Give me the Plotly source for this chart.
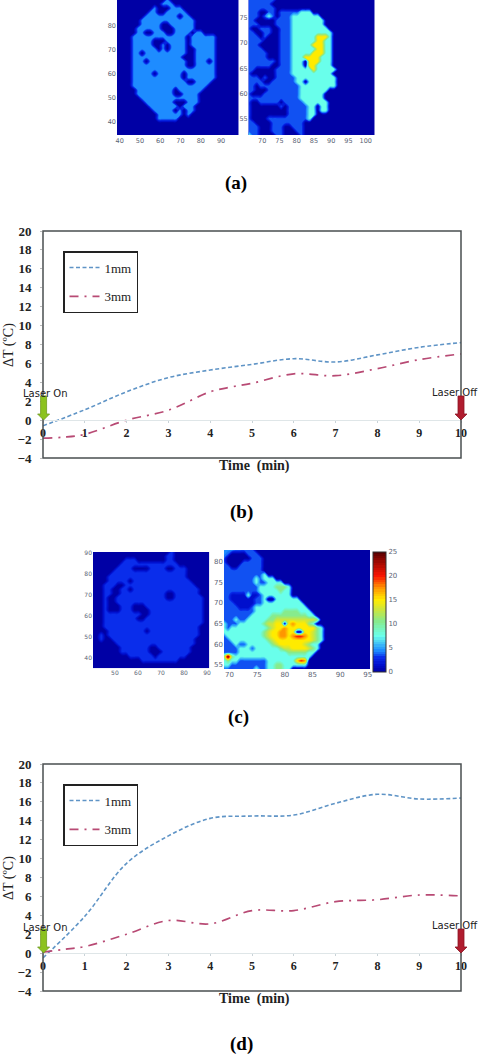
import plotly.graph_objects as go

# ---------- data ----------
time_b_1mm = [0, 1, 2, 3, 4, 5, 6, 7, 8, 9, 10]
temp_b_1mm = [-0.6, 1.1, 3.0, 4.5, 5.3, 5.9, 6.5, 6.15, 6.9, 7.7, 8.2]
time_b_3mm = [0, 0.5, 1, 2, 3, 4, 4.5, 5, 6, 7, 8, 9, 10]
temp_b_3mm = [-1.9, -1.8, -1.5, 0.0, 1.05, 3.0, 3.5, 3.9, 4.9, 4.7, 5.45, 6.4, 7.0]
time_d_1mm = [0, 1, 2, 3, 4, 5, 6, 7, 8, 9, 10]
temp_d_1mm = [-0.5, 3.9, 9.5, 12.4, 14.25, 14.5, 14.6, 15.85, 16.8, 16.3, 16.4]
time_d_3mm = [0, 0.5, 1, 2, 3, 4, 5, 6, 7, 8, 9, 10]
temp_d_3mm = [0.1, 0.4, 0.7, 2.0, 3.45, 3.1, 4.5, 4.5, 5.45, 5.65, 6.15, 6.05]
time_ticks = list(range(0, 11))
temp_ticks = list(range(-4, 21, 2))

level_values = {'.': 0, 'd': 1.5, 'f': 3.0, 'b': 3.7, '#': 4.5, 'c': 7.5, 'g': 10.5,
                'l': 13, 'y': 15, 'o': 17.5, 'r': 20, 'k': 24}

map_a_left = [
    "............#",
    "...........###",
    ".........#...###",
    "........##..#####",
    ".......########.##",
    "......#############",
    "......#####..######",
    ".....######...#####",
    ".....##..###..####.##",
    "....#############.######",
    "....#####...#####.######",
    "....#####..#.####.######",
    "....######.#.####..#####",
    "....##.##########..#####",
    "....############...#####",
    "....###.#########..###.#",
    "....#############..#####",
    "....####################",
    "....#####.######.#######",
    "....############.#######",
    "....#############..####",
    "....##################",
    ".....#########.######",
    ".....#########..####",
    "......##############",
    ".......#######...###",
    "........#######.###",
    ".........#####.#.##",
    "..........######.#",
    "..........#####",
    "", "", "", "",
]

map_a_right = [
    "bbbbbbb",
    "bbbbbb",
    "bbbbbbb",
    "bbb..bb.bbbbbccc",
    "bbb.bcb.bbbccccccc",
    "bb.....bbbbcccccccc",
    "bbb....bbbbcccccccc",
    "b..bbb..bbbccccccccc",
    "bb..bb..bbbcccccccccc",
    "bbb.b...bbbccccccyyyc",
    "bbbb....bbbccccccyycc",
    "bbb.....bbbcccccyyycc",
    "bbbb....bbbccccccyycc",
    "bbbbb...bbbcccccyyycc",
    "bbbbb...bbbcccyyyyccc",
    "bbbbbbb.bbbccc.yyyccc",
    "bbbbbb..bbbccc.yycccc",
    "bb.....bbbbcccccyccccc",
    "b......bbbbcccccccccc",
    "bbb.b..bbbbbcccccccccc",
    "bbbb..bbbbbbcc.ccccccc",
    "bb.bbbbbbbbbbccccccccc",
    "bb...bbbbbbbbccccccc",
    "b...bbbbbbbbbcccccc",
    "bbbbbbbbbbbbbcccccc",
    "b..bbbbb.bbbbbcccccc",
    "b.......b.bbbbbcc.cc",
    "b.........bbbbbcc.cc",
    "b.........bbbbbcc",
    "b....bbbbbbbbbbc",
    "bb....bbbbbbbb",
    "bbb...bbb..bbb",
    "bbb...bbb...bb",
    "cbb....bb....b",
]

map_c_left = [
    "...................f",
    "..................ff",
    "........fff.......ff",
    ".......ffffffffffffff",
    "......ffff....ffff..fff",
    ".....ffffffffffffffffff",
    "....fffffffffffffffffff",
    "....fffff.ffffffffffffff",
    "...fff..fffffffffffffffff",
    "...ff..ff.ffffffffffffffff",
    "...ff..fffffffffff..ffffff",
    "...f..ffffffffffff..fffffff",
    "...f..fffffffffffffffffffff",
    "...f...fff...ffffffffffffff",
    "...f...fff....fffffffffffff",
    "...fffffffff..fffffffffffff",
    "...ffffffff..ffffffffffffff",
    "...ffffffffffffffffffffffff",
    "...fffffffffffffffffffffff",
    "....fffffffff.ffffffffffff",
    "..f.ffffffffffffffffffffff",
    "..f..ffffffffffffffffffff",
    "......fffffffffffffffffff",
    ".......fffffff..ffffffff",
    ".......fffffff...fffffff",
    ".........ffffff.fffffff",
    "............fffffffff",
    "", "",
]

map_c_right = [
    "###bbbbb",
    "#b....bbb",
    "b......bbb",
    "b....bbbbb",
    "bb..bbbbbb",
    "bbbbbbbbbb",
    "bbbbbbbbbbc",
    "bbbbbbbbcbccc",
    "bbbbbbbbcbbcccc",
    "bbbbbbbbbccccgggc",
    "bbbbbbbbbcccccgcc",
    "bbddddcddbccccccc",
    "bbddddddbbc..cccccc",
    "bbbdddddbbcccccccccc",
    "bbbbdddbccccccccccccc",
    "bbbbbbbbcccccccggggccc",
    "bbbbbbbcccccgggggggggcc",
    "bbbcbbcccccggllllllllllg",
    "cbbbccccccgllyy.yoyyygc",
    "cbcccccccccglyyoyyyyyyygc",
    "ccccccccccglyyooyy..yylgc",
    "bcccccccccglyyooyorroylgc",
    "bbcccccccccglyyyyyyyyylgc",
    "bbbcbbccccccglyyyyyylgcc",
    "bbbbcccbccccccgllyyyylgc",
    "bbbbccccccccccccgggggcc",
    "gkgccccccccccccccccccc",
    "cgccbbbbbbbcccccccyro",
    "ccbbbbbbbbbccggcccccc",
    "bbbbbbbbcbbccggcc",
]

# ---------- styles ----------
color_1mm = "#5f94c6"
color_3mm = "#b84a74"
serif = "Liberation Serif"
tick_color = "#5b6475"
stops = [(0, (0, 0, 165)), (1.5, (0, 15, 205)), (3.0, (10, 45, 235)), (3.7, (20, 95, 245)),
         (4.5, (30, 140, 255)), (7.5, (105, 255, 235)), (10.5, (135, 235, 140)),
         (13, (205, 230, 60)), (15, (255, 235, 0)), (17.5, (255, 150, 0)),
         (20, (250, 20, 0)), (25, (90, 0, 0))]
jet_like = [[v / 25, f"rgb{c}"] for v, c in stops]

W, H = 480, 1056
def xdom(a, b): return [a / W, b / W]
def ydom(a, b): return [1 - b / H, 1 - a / H]

fig = go.Figure()

def grid_to_z(rows, ncols):
    return [[level_values[ch] for ch in r.ljust(ncols, '.')[:ncols]] for r in rows]

def add_map(i, rows, ncols, xr, yr, box, xticks, yticks, tick_size, scale=False):
    nrows = len(rows)
    xs = [xr[0] + k * (xr[1] - xr[0]) / (ncols - 1) for k in range(ncols)]
    ys = [yr[1] - k * (yr[1] - yr[0]) / (nrows - 1) for k in range(nrows)]
    small_tick = dict(family="DejaVu Sans", size=tick_size, color=tick_color)
    tr = go.Contour(z=grid_to_z(rows, ncols), x=xs, y=ys, zmin=0, zmax=25, colorscale=jet_like,
                    contours=dict(coloring="fill", showlines=False, start=0.25, end=24.75, size=0.5),
                    line=dict(width=0), showscale=scale, xaxis=f"x{i}", yaxis=f"y{i}", hoverinfo="skip")
    if scale:
        tr.colorbar = dict(x=373 / W, xanchor="left", xpad=0, thickness=13, lenmode="pixels", len=120,
                           y=1 - 552 / H, yanchor="top", ypad=0, outlinecolor="#333", outlinewidth=1,
                           tickvals=[0, 5, 10, 15, 20, 25], tickfont=small_tick, ticks="")
    fig.add_trace(tr)
    fig.layout[f"xaxis{i}"] = dict(domain=xdom(box[0], box[1]), range=xr, anchor=f"y{i}", tickvals=xticks,
                                   tickfont=small_tick, ticks="", showgrid=False, zeroline=False, showline=False)
    fig.layout[f"yaxis{i}"] = dict(domain=ydom(box[2], box[3]), range=yr, anchor=f"x{i}", tickvals=yticks,
                                   tickfont=small_tick, ticks="", showgrid=False, zeroline=False, showline=False)

add_map(1, map_a_left, 30, [38.7, 98.7], [34.6, 90.8], (117, 238.7, 0, 135),
        [40, 50, 60, 70, 80, 90], [40, 50, 60, 70, 80, 90], 6.5)
add_map(2, map_a_right, 32, [66.1, 102.6], [51.8, 78.56], (248.7, 374.7, 0, 135),
        [70, 75, 80, 85, 90, 95, 100], [55, 60, 65, 70, 75], 6.5)
add_map(4, map_c_left, 29, [40.5, 91], [35.2, 90.6], (93, 209.3, 552, 668.3),
        [50, 60, 70, 80, 90], [40, 50, 60, 70, 80, 90], 6)
add_map(5, map_c_right, 37, [69, 95.4], [54, 82.8], (224, 370, 550, 669),
        [70, 75, 80, 85, 90, 95], [55, 60, 65, 70, 75, 80], 7, scale=True)

def add_lines(i, leg, t1, v1, t3, v3, top):
    fig.add_trace(go.Scatter(x=t1, y=v1, mode="lines", name="1mm", legend=leg, legendgroup="a",
                             line=dict(color=color_1mm, width=1.6, dash="4px,2.5px", shape="spline", smoothing=1),
                             xaxis=f"x{i}", yaxis=f"y{i}"))
    fig.add_trace(go.Scatter(x=t3, y=v3, mode="lines", name="3mm", legend=leg, legendgroup="b",
                             line=dict(color=color_3mm, width=1.7, dash="9px,6px,2px,6px", shape="spline", smoothing=1),
                             xaxis=f"x{i}", yaxis=f"y{i}"))
    bottom = top + 227
    zero_px = top + 189
    fig.layout[f"xaxis{i}"] = dict(domain=xdom(43, 461), range=[0, 10], anchor="free", position=1 - zero_px / H,
                                   tickvals=time_ticks, ticks="outside", ticklen=2, tickcolor="#c9d3d8",
                                   linecolor="#dfe6e8", showline=True, showgrid=False, zeroline=False,
                                   ticklabelstandoff=0,
                                   tickfont=dict(family=serif, size=12, color="#222", weight=700))
    fig.layout[f"yaxis{i}"] = dict(domain=ydom(top, bottom), range=[-4, 20], anchor=f"x{i}", tickvals=temp_ticks,
                                   ticks="outside", ticklen=2, tickcolor="#bbb", showgrid=False, zeroline=False,
                                   ticklabelstandoff=6,
                                   tickfont=dict(family=serif, size=13, color="#222", weight=700))
    fig.add_shape(type="rect", xref=f"x{i} domain", yref=f"y{i} domain", x0=0, x1=1, y0=0, y1=1,
                  line=dict(color="#4a4f50", width=1.5), layer="above")
    for xpx, fill, edge in ((43.6, "#8cc21f", "#6f9a20"), (461, "#b01c2e", "#8a1525")):
        fig.add_shape(type="path", xref="paper", yref="paper", xsizemode="pixel", ysizemode="pixel",
                      xanchor=xpx / W, yanchor=1 - zero_px / H, fillcolor=fill, line=dict(color=edge, width=0.8),
                      path="M -3 24 L 3 24 L 3 6 L 6 6 L 0 0 L -6 6 L -3 6 Z", layer="above")
    fig.add_annotation(xref=f"x{i}", yref="paper", x=0.07, y=1 - (top + 163) / H, text="Laser On", showarrow=False,
                       font=dict(family="DejaVu Sans", size=10, color="#222"), xanchor="center", yanchor="middle")
    fig.add_annotation(xref=f"x{i}", yref="paper", x=9.85, y=1 - (top + 161) / H, text="Laser Off", showarrow=False,
                       font=dict(family="DejaVu Sans", size=10, color="#222"), xanchor="center", yanchor="middle")
    fig.add_annotation(xref="paper", yref="paper", x=254 / W, y=1 - (top + 235) / H, text="<b>Time  (min)</b>",
                       showarrow=False, font=dict(family=serif, size=14, color="#222"),
                       xanchor="center", yanchor="middle")
    fig.add_annotation(xref="paper", yref="paper", x=9 / W, y=1 - (top + 114) / H, text="ΔT (ºC)", textangle=-90,
                       showarrow=False, font=dict(family=serif, size=14, color="#222"),
                       xanchor="center", yanchor="middle")

add_lines(3, "legend", time_b_1mm, temp_b_1mm, time_b_3mm, temp_b_3mm, 231)
add_lines(6, "legend2", time_d_1mm, temp_d_1mm, time_d_3mm, temp_d_3mm, 764)

leg_style = dict(xanchor="left", yanchor="top", x=63 / W, bgcolor="white", bordercolor="#222", borderwidth=1.5,
                 font=dict(family=serif, size=13, color="#222"), tracegroupgap=9, itemwidth=30,
                 entrywidth=15, entrywidthmode="pixels", traceorder="grouped")
fig.update_layout(legend=dict(y=1 - 251 / H, **leg_style), legend2=dict(y=1 - 784 / H, **leg_style))

for cap, xpx, ypx in (("(a)", 236, 183), ("(b)", 241, 512), ("(c)", 238, 717), ("(d)", 241, 1044)):
    fig.add_annotation(xref="paper", yref="paper", x=xpx / W, y=1 - ypx / H, text=f"<b>{cap}</b>", showarrow=False,
                       font=dict(family=serif, size=19, color="black"), xanchor="center", yanchor="middle")

fig.update_layout(width=W, height=H, autosize=False, showlegend=True,
                  margin=dict(l=0, r=0, t=0, b=0, autoexpand=False),
                  paper_bgcolor="white", plot_bgcolor="white")
fig.write_html("out.html", config=dict(displayModeBar=False), post_script="document.body.style.margin='0';")
